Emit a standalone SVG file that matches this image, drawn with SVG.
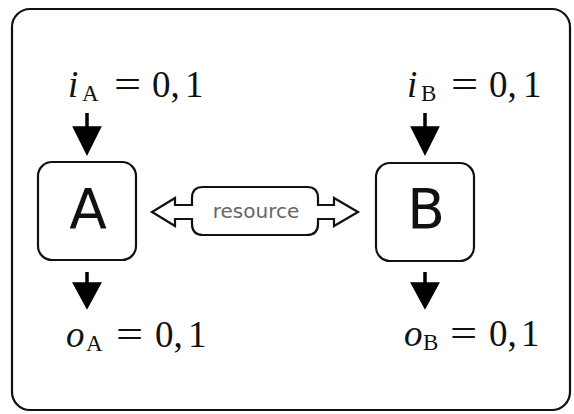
<svg xmlns="http://www.w3.org/2000/svg" width="574" height="414" viewBox="0 0 574 414">
<defs>
<style>
.frame{fill:none;stroke:#111;stroke-width:2.2}
.box{fill:#fff;stroke:#111;stroke-width:2.2}
.big{font-family:"DejaVu Sans",sans-serif;font-size:55px;fill:#111;text-anchor:middle}
.res{font-family:"DejaVu Sans",sans-serif;font-size:20px;fill:#666;text-anchor:middle}
.m{font-family:"Liberation Serif","DejaVu Serif",serif;font-size:37px;fill:#111}
.it{font-style:italic}
.sub{font-size:23px}
.arr{fill:#000;stroke:#000;stroke-width:3.5}
.res-shape{fill:#fff;stroke:#111;stroke-width:2.2;stroke-linejoin:miter}
</style>
</defs>
<rect class="frame" x="12" y="9" width="558" height="401" rx="18"/>
<g id="connectors">
<path class="arr" d="M87,113 L87,128 M75,128 L99,128 L87,152 Z"/>
<path class="arr" d="M87,272 L87,284 M75,284 L99,284 L87,306 Z"/>
<path class="arr" d="M425,113 L425,128 M413,128 L437,128 L425,152 Z"/>
<path class="arr" d="M425,272 L425,284 M413,284 L437,284 L425,306 Z"/>
</g>
<g id="resource">
<path class="res-shape" d="M203,187 L307,187 Q318,187 318,198 L318,205 L334,205 L334,198 L358,212 L334,226 L334,219 L318,219 L318,224 Q318,235 307,235 L203,235 Q192,235 192,224 L192,219 L175,219 L175,226 L152,212 L175,198 L175,205 L192,205 L192,198 Q192,187 203,187 Z"/>
<text class="res" x="256" y="218">resource</text>
</g>
<g id="nodeA">
<rect class="box" x="38" y="162" width="98" height="98" rx="14"/>
<text class="big" x="88" y="228">A</text>
</g>
<g id="nodeB">
<rect class="box" x="376" y="163" width="98" height="98" rx="14"/>
<text class="big" x="426" y="228">B</text>
</g>
<g id="labelIA">
<text class="m" y="97"><tspan class="it" x="68">i</tspan><tspan class="sub" x="82" y="101">A</tspan><tspan x="152" y="97">0,</tspan><tspan x="185">1</tspan></text>
<text class="m" transform="translate(114,97) scale(1.3,1)">=</text>
</g>
<g id="labelOA">
<text class="m" y="347"><tspan class="it" x="66">o</tspan><tspan class="sub" x="86" y="351">A</tspan><tspan x="155" y="347">0,</tspan><tspan x="188">1</tspan></text>
<text class="m" transform="translate(116,347) scale(1.3,1)">=</text>
</g>
<g id="labelIB">
<text class="m" y="97"><tspan class="it" x="407">i</tspan><tspan class="sub" x="421" y="101">B</tspan><tspan x="489" y="97">0,</tspan><tspan x="523">1</tspan></text>
<text class="m" transform="translate(451,97) scale(1.3,1)">=</text>
</g>
<g id="labelOB">
<text class="m" y="346"><tspan class="it" x="404">o</tspan><tspan class="sub" x="423" y="350">B</tspan><tspan x="489" y="346">0,</tspan><tspan x="521">1</tspan></text>
<text class="m" transform="translate(450,346) scale(1.3,1)">=</text>
</g>
</svg>
